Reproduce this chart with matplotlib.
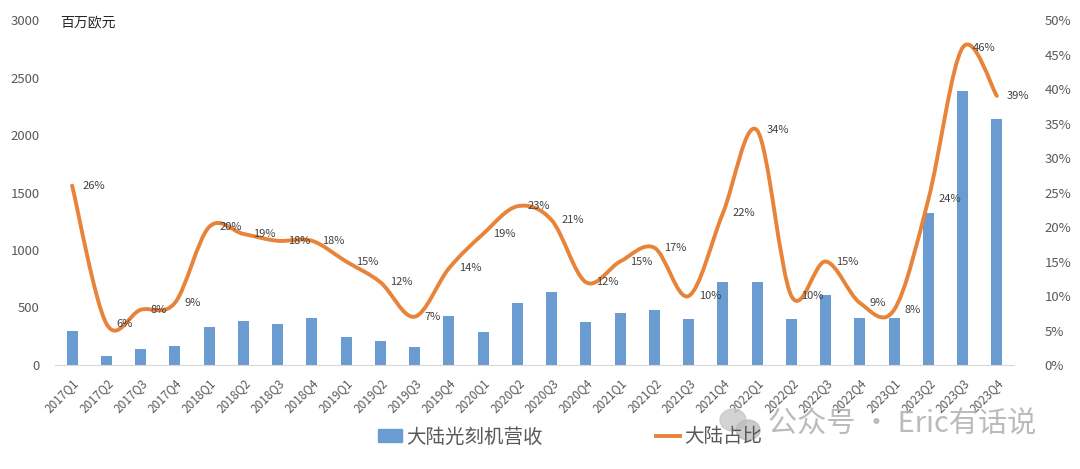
import numpy as np
import matplotlib.pyplot as plt
from matplotlib.path import Path
from matplotlib.patches import PathPatch, Rectangle, Ellipse
from matplotlib.lines import Line2D

plt.rcParams['font.family'] = ['Noto Sans CJK SC', 'DejaVu Sans']
plt.rcParams['axes.unicode_minus'] = False

quarters = ['2017Q1', '2017Q2', '2017Q3', '2017Q4', '2018Q1', '2018Q2', '2018Q3', '2018Q4',
            '2019Q1', '2019Q2', '2019Q3', '2019Q4', '2020Q1', '2020Q2', '2020Q3', '2020Q4',
            '2021Q1', '2021Q2', '2021Q3', '2021Q4', '2022Q1', '2022Q2', '2022Q3', '2022Q4',
            '2023Q1', '2023Q2', '2023Q3', '2023Q4']
# 大陆光刻机营收 (百万欧元)
revenue = [292, 78, 139, 165, 330, 383, 357, 409, 243, 209, 157, 426, 287, 539,
           635, 374, 452, 478, 400, 722, 719, 400, 609, 411, 411, 1322, 2385, 2142]
# 大陆占比 (%)
share = [26, 6, 8, 9, 20, 19, 18, 18, 15, 12, 7, 14, 19, 23,
         21, 12, 15, 17, 10, 22, 34, 10, 15, 9, 8, 24, 46, 39]

bar_color = '#6A9BD1'
line_color = '#E8833A'
text_color = '#595959'

fig = plt.figure(figsize=(10.8, 4.69), dpi=100)
ax = fig.add_axes([55 / 1080, 1 - 365 / 469, 959 / 1080, 345 / 469])
x = np.arange(len(quarters))

ax.bar(x, revenue, width=0.32, color=bar_color, zorder=2)
ax.set_xlim(-0.5, len(quarters) - 0.5)
ax.set_ylim(0, 3000)
ax.set_yticks(range(0, 3001, 500))
ax.set_xticks(x)
ax.set_xticklabels(quarters, rotation=45, ha='right', rotation_mode='anchor')
ax.tick_params(axis='x', length=0, pad=8, labelsize=8.5, labelcolor=text_color)
ax.tick_params(axis='y', length=0, pad=11, labelsize=9.5, labelcolor=text_color)
for side in ['top', 'right', 'left']:
    ax.spines[side].set_visible(False)
ax.spines['bottom'].set_color('#D9D9D9')

ax2 = ax.twinx()
ax2.set_ylim(0, 50)
ax2.set_yticks(range(0, 51, 5))
ax2.set_yticklabels([f'{v}%' for v in range(0, 51, 5)])
ax2.tick_params(axis='y', length=0, pad=22, labelsize=9.5, labelcolor=text_color)
for side in ax2.spines:
    ax2.spines[side].set_visible(False)

# Excel 风格的平滑曲线 (Bezier)
pts = np.column_stack([x, share]).astype(float)
verts = [tuple(pts[0])]
codes = [Path.MOVETO]
n = len(pts)
for i in range(n - 1):
    p0 = pts[i - 1] if i > 0 else pts[i]
    p1, p2 = pts[i], pts[i + 1]
    p3 = pts[i + 2] if i + 2 < n else pts[i + 1]
    c1 = p1 + (p2 - p0) / 6
    c2 = p2 - (p3 - p1) / 6
    verts += [tuple(c1), tuple(c2), tuple(p2)]
    codes += [Path.CURVE4] * 3
ax2.add_patch(PathPatch(Path(verts, codes), facecolor='none', edgecolor=line_color,
                        lw=2.8, capstyle='round', joinstyle='round', zorder=3))

for xi, v in zip(x, share):
    ax2.annotate(f'{v}%', (xi, v), xytext=(10, 0), textcoords='offset pixels',
                 ha='left', va='center', fontsize=8, color='#404040', zorder=4)

fig.text(60 / 1080, 1 - 22 / 469, '百万欧元', fontsize=10, color='#262626', va='center')

handles = [Rectangle((0, 0), 1, 1, color=bar_color),
           Line2D([0], [0], color=line_color, lw=2.8)]
fig.legend(handles, ['大陆光刻机营收', '大陆占比'], loc='center', ncol=2,
           bbox_to_anchor=(570 / 1080, 1 - 437 / 469), frameon=False, fontsize=14,
           labelcolor=text_color, handlelength=1.25, handletextpad=0.2,
           columnspacing=5.8, handleheight=0.6)

# 水印
fig.patches.append(Ellipse((733 / 1080, 1 - 420 / 469), 26 / 1080, 22 / 469,
                           transform=fig.transFigure, color='#C8C8C8', alpha=0.8))
fig.patches.append(Ellipse((748 / 1080, 1 - 430 / 469), 24 / 1080, 20 / 469,
                           transform=fig.transFigure, color='#BDBDBD', alpha=0.8))
fig.text(768 / 1080, 1 - 425 / 469, '公众号 · Eric有话说', fontsize=21,
         color='#B4B4B4', va='center', ha='left', alpha=0.9)

fig.savefig('out.png', dpi=100)
